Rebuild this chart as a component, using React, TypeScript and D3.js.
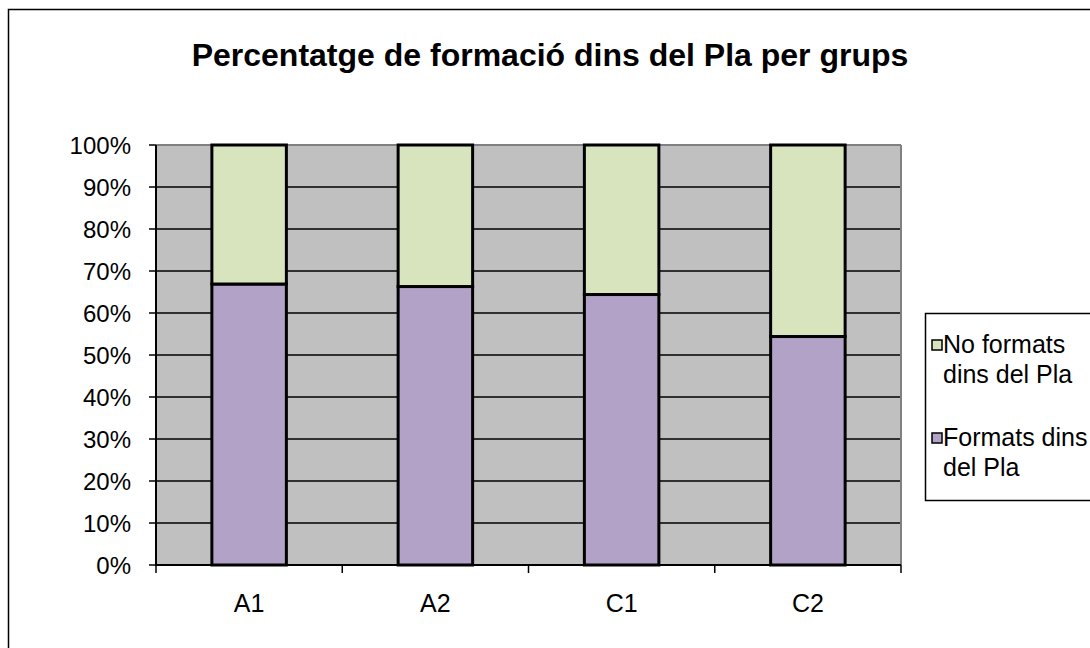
import React from "react";
import * as d3 from "d3";

const categories = ["A1", "A2", "C1", "C2"];
const formats = [66.9, 66.3, 64.4, 54.4];
const noFormats = [33.1, 33.7, 35.6, 45.6];
const yTicks = [0, 10, 20, 30, 40, 50, 60, 70, 80, 90, 100];
const title = "Percentatge de formació dins del Pla per grups";
const legendItems = [
  { lines: ["No formats", "dins del Pla"], color: "#D7E4BD" },
  { lines: ["Formats dins", "del Pla"], color: "#B3A2C7" },
];

export default function App() {
  const W = 1090, H = 648;
  const left = 156, right = 901, top = 145, bottom = 565;
  const x = d3.scaleBand<string>().domain(categories).range([left, right]).paddingInner(0.6).paddingOuter(0.3);
  const xOuter = d3.scaleBand<string>().domain(categories).range([left, right]);
  const y = d3.scaleLinear().domain([0, 100]).range([bottom, top]);
  const font = "Arial, 'Liberation Sans', sans-serif";
  const stack = d3.stack<any>().keys(["f", "n"])(categories.map((c, i) => ({ c, f: formats[i], n: noFormats[i] })));
  const colors = ["#B3A2C7", "#D7E4BD"];
  return (
    <svg width={W} height={H} style={{ position: "absolute", left: 0, top: 0, background: "#fff" }}>
      <rect x={8.5} y={9.5} width={1100} height={700} fill="#fff" stroke="#000" strokeWidth={1.5} />
      <text x={550} y={66} textAnchor="middle" fontFamily={font} fontWeight="bold" fontSize={32}>{title}</text>
      <rect x={left} y={top} width={right - left} height={bottom - top} fill="#C0C0C0" />
      {yTicks.filter(t => t > 0 && t < 100).map(t => (
        <line key={t} x1={left} x2={right} y1={y(t)} y2={y(t)} stroke="#000" strokeWidth={1.5} />
      ))}
      <line x1={left} x2={right} y1={top} y2={top} stroke="#808080" strokeWidth={2} />
      <line x1={right} x2={right} y1={top} y2={bottom} stroke="#808080" strokeWidth={2} />
      {stack.map((s, si) => s.map((d, i) => (
        <rect key={si + "-" + i} x={x(categories[i])} width={x.bandwidth()} y={y(d[1])} height={y(d[0]) - y(d[1])}
          fill={colors[si]} stroke="#000" strokeWidth={3} />
      )))}
      <line x1={left} x2={left} y1={top} y2={bottom} stroke="#000" strokeWidth={2} />
      <line x1={left - 1} x2={right} y1={bottom} y2={bottom} stroke="#000" strokeWidth={2} />
      {yTicks.map(t => (
        <g key={t}>
          <line x1={left - 7} x2={left} y1={y(t)} y2={y(t)} stroke="#000" strokeWidth={1.5} />
          <text x={131} y={y(t)} dy="0.36em" textAnchor="end" fontFamily={font} fontSize={24}>{t}%</text>
        </g>
      ))}
      {categories.concat(["end"]).map((c, i) => {
        const px = i < categories.length ? (xOuter(c) as number) : right;
        return <line key={c} x1={px} x2={px} y1={bottom} y2={bottom + 8} stroke="#000" strokeWidth={1.5} />;
      })}
      {categories.map(c => (
        <text key={c} x={(x(c) as number) + x.bandwidth() / 2} y={612} textAnchor="middle" fontFamily={font} fontSize={25}>{c}</text>
      ))}
      <rect x={925.5} y={313.5} width={200} height={187} fill="#fff" stroke="#000" strokeWidth={1.5} />
      {legendItems.map((it, i) => (
        <g key={i} transform={`translate(0, ${i * 93})`}>
          <rect x={932} y={340} width={10} height={10} fill={it.color} stroke="#000" strokeWidth={1.5} />
          <text fontFamily={font} fontSize={25}>
            {it.lines.map((l, j) => (
              <tspan key={j} x={943} y={353 + j * 30}>{l}</tspan>
            ))}
          </text>
        </g>
      ))}
    </svg>
  );
}
